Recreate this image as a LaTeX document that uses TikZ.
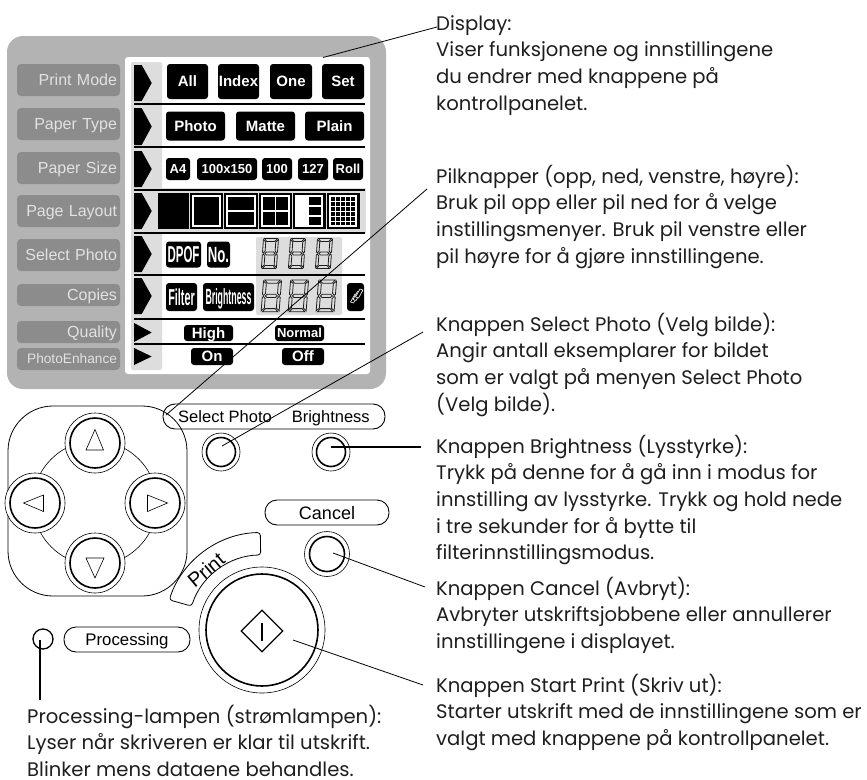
\documentclass[tikz,border=0pt]{standalone}
\usepackage{xcolor}
\usepackage{fontspec}
\setmainfont{Poppins}
\newfontfamily\panelfont{Liberation Sans}
\usetikzlibrary{
  shapes.geometric,
  positioning,
  calc
}
\definecolor{xpanel}{RGB}{179,179,179}
\definecolor{xtag}{RGB}{140,140,140}
\definecolor{xtagtext}{RGB}{226,226,226}
\definecolor{xlight}{RGB}{221,221,221}
\definecolor{xseg}{RGB}{30,30,30}
\definecolor{xink}{RGB}{30,30,30}
\newcommand{\pfsize}[1]{\fontsize{#1}{#1}\selectfont}
\begin{document}
\begin{tikzpicture}[
  x=1pt, y=-1pt,
  tag/.style={
    fill=xtag, rounded corners=4pt, minimum width=103pt, text width=97pt,
    inner sep=0pt, align=right, text=xtagtext, text depth=0pt
  },
  lcd/.style={
    fill=black, text=white, rounded corners=3pt, inner sep=0pt, text depth=0pt,
    font=\panelfont\bfseries\pfsize{15}
  },
  pill/.style={
    draw=black, line width=0.9pt, rounded corners=12pt, inner sep=0pt, text depth=0pt,
    minimum height=25pt, font=\panelfont\pfsize{16.5}
  },
  keyouter/.style={circle, draw=black, fill=white, line width=0.6pt, inner sep=0pt},
  keyinner/.style={circle, draw=black, line width=1.6pt, inner sep=0pt},
  rule/.style={line width=2pt, color=black},
  thumb/.style={fill=black, inner sep=0pt, minimum height=36pt, anchor=north west},
  thumbline/.style={draw=white, line width=1.2pt},
  arrow/.style={draw=black, line width=0.8pt},
  arrowthick/.style={draw=black, line width=1.4pt},
  note/.style={
    anchor=north west, inner sep=0pt, align=left, text=xink,
    font=\fontsize{19.6}{26.7}\selectfont
  },
  segdigit/.pic={
    \begin{scope}[xslant=0.07, draw=xseg, line width=0.8pt]
      \draw (1.5,0) -- (14.5,0) -- (12,3) -- (4,3) -- cycle;
      \draw (3,15) -- (4.5,13.5) -- (11.5,13.5) -- (13,15) -- (11.5,16.5) -- (4.5,16.5) -- cycle;
      \draw (1.5,30) -- (14.5,30) -- (12,27) -- (4,27) -- cycle;
      \draw (0.5,1) -- (3,3.5) -- (3,12.5) -- (1.5,14.5) -- (0.5,13.5) -- cycle;
      \draw (15.5,1) -- (13,3.5) -- (13,12.5) -- (14.5,14.5) -- (15.5,13.5) -- cycle;
      \draw (0.5,29) -- (3,26.5) -- (3,17.5) -- (1.5,15.5) -- (0.5,16.5) -- cycle;
      \draw (15.5,29) -- (13,26.5) -- (13,17.5) -- (14.5,15.5) -- (15.5,16.5) -- cycle;
    \end{scope}
  }
]
  \useasboundingbox (0,0) rectangle (867,779);

  \fill[xpanel, rounded corners=16pt] (7,36) rectangle (386,389);
  \fill[white, rounded corners=3pt] (125,57) rectangle (370,374);
  \fill[xlight, rounded corners=2pt] (131,62) rectangle (162,370);
  \fill[xlight] (131,188) rectangle (366,233);
  \fill[xlight, rounded corners=2pt] (256,237) rectangle (342,315);

  \node[tag, minimum height=32pt, font=\panelfont\pfsize{16}]   (TagMode)    at (68.5,80)    {Print Mode};
  \node[tag, minimum height=32pt, font=\panelfont\pfsize{16}]   (TagType)    at (68.5,124)   {Paper Type};
  \node[tag, minimum height=32pt, font=\panelfont\pfsize{16}]   (TagSize)    at (68.5,168)   {Paper Size};
  \node[tag, minimum height=32pt, font=\panelfont\pfsize{16}]   (TagLayout)  at (68.5,211)   {Page Layout};
  \node[tag, minimum height=32pt, font=\panelfont\pfsize{16}]   (TagSelect)  at (68.5,255)   {Select Photo};
  \node[tag, minimum height=22pt, font=\panelfont\pfsize{16}]   (TagCopies)  at (68.5,295)   {Copies};
  \node[tag, minimum height=22pt, font=\panelfont\pfsize{16}]   (TagQuality) at (68.5,332)   {Quality};
  \node[tag, minimum height=22pt, font=\panelfont\pfsize{13.7}] (TagEnhance) at (68.5,359)   {PhotoEnhance};

  \foreach \ya/\yb/\s in {65/101/141.7, 108/145/141.7, 151/187/141.7, 193/229/141.7,
                          236/272/141.7, 278/314/141.7, 323/342/134, 348/365/134}
    \fill[black] (134,\ya) -- (\s,\ya) -- (151.7,{(\ya+\yb)/2}) -- (\s,\yb) -- (134,\yb) -- cycle;

  \foreach \y in {104,147,190,233,275,319,344}
    \draw[rule] (134,\y) -- (365,\y);

  \node[lcd, minimum width=41pt, minimum height=35pt] (BtnAll)   at (187.5,81.5) {All};
  \node[lcd, minimum width=41pt, minimum height=35pt] (BtnIndex) at (238.5,81.5) {Index};
  \node[lcd, minimum width=42pt, minimum height=35pt] (BtnOne)   at (291,81.5)   {One};
  \node[lcd, minimum width=42pt, minimum height=35pt] (BtnSet)   at (343,81.5)   {Set};

  \node[lcd, minimum width=59pt, minimum height=29pt] (BtnPhoto) at (195.5,126)  {Photo};
  \node[lcd, minimum width=59pt, minimum height=29pt] (BtnMatte) at (265.5,126)  {Matte};
  \node[lcd, minimum width=59pt, minimum height=29pt] (BtnPlain) at (334.5,126)  {Plain};

  \node[lcd, minimum width=24pt, minimum height=22pt, font=\panelfont\bfseries\pfsize{13}] (BtnAfour)   at (178,169)   {A4};
  \node[lcd, minimum width=60pt, minimum height=22pt, font=\panelfont\bfseries\pfsize{13}] (BtnHundred) at (227,169)   {100x150};
  \node[lcd, minimum width=30pt, minimum height=22pt, font=\panelfont\bfseries\pfsize{13}] (BtnOneh)    at (277,169)   {100};
  \node[lcd, minimum width=30pt, minimum height=22pt, font=\panelfont\bfseries\pfsize{13}] (BtnOnet)    at (313,169)   {127};
  \node[lcd, minimum width=30pt, minimum height=22pt, font=\panelfont\bfseries\pfsize{13}] (BtnRoll)    at (348,169)   {Roll};

  \node[thumb, minimum width=31pt] (ThumbA) at (158,193) {};
  \node[thumb, minimum width=33pt] (ThumbB) at (190,193) {};
  \node[thumb, minimum width=34pt] (ThumbC) at (224,193) {};
  \node[thumb, minimum width=33pt] (ThumbD) at (259,193) {};
  \node[thumb, minimum width=33pt] (ThumbE) at (293,193) {};
  \node[thumb, minimum width=33pt] (ThumbF) at (327,193) {};
  \draw[thumbline] (193,196) rectangle (220,226);
  \draw[thumbline] (227,196) rectangle (255,226);
  \draw[thumbline] (227,211) -- (255,211);
  \draw[thumbline] (262,196) rectangle (289,226);
  \draw[thumbline] (262,211) -- (289,211);
  \draw[thumbline] (275.5,196) -- (275.5,226);
  \fill[white] (296,196) rectangle (309,226);
  \draw[thumbline] (296,196) rectangle (322,226);
  \draw[thumbline] (309,206) -- (322,206);
  \draw[thumbline] (309,216) -- (322,216);
  \draw[thumbline] (330,196) rectangle (356,226);
  \foreach \x in {335.2,340.4,345.6,350.8}
    \draw[white, line width=0.9pt] (\x,196) -- (\x,226);
  \foreach \y in {201,206,211,216,221}
    \draw[white, line width=0.9pt] (330,\y) -- (356,\y);

  \node[lcd, minimum width=35pt, minimum height=26pt, font=\panelfont\bfseries\pfsize{23}] (BtnDpof) at (183.5,254.5)
    {\scalebox{0.5}[1]{DPOF}};
  \node[lcd, minimum width=23pt, minimum height=26pt, font=\panelfont\bfseries\pfsize{22}] (BtnNo) at (218.5,254.5)
    {\scalebox{0.6}[1]{No.}};
  \node[lcd, minimum width=31pt, minimum height=28pt, font=\panelfont\bfseries\pfsize{23}] (BtnFilter) at (181.5,297)
    {\scalebox{0.47}[1]{Filter}};
  \node[lcd, minimum width=51pt, minimum height=28pt, font=\panelfont\bfseries\pfsize{22}] (BtnBright) at (228.5,297)
    {\scalebox{0.4}[1]{Brightness}};
  \node[lcd, minimum width=17pt, minimum height=28pt] (BtnPaper) at (355.5,297) {};
  \foreach \d in {0,2.5,5}
    \draw[white, fill=black, line width=0.6pt] (350.5+\d,302-\d) -- (355+\d,294-\d) -- (358+\d,295-\d) -- (353.5+\d,303-\d) -- cycle;

  \foreach \x in {263,290,317}
    \pic at (\x,238.5) {segdigit};
  \foreach \x in {263,290,318}
    \pic[xscale=1.2, yscale=1.06] at (\x,280) {segdigit};

  \node[lcd, minimum width=49pt, minimum height=16pt]                                   (BtnHigh)   at (208.5,333)   {High};
  \node[lcd, minimum width=49pt, minimum height=16pt, font=\panelfont\bfseries\pfsize{13}] (BtnNormal) at (299.5,333)   {Normal};
  \node[lcd, minimum width=42pt, minimum height=17pt]                                   (BtnOn)     at (212,356.5)   {On};
  \node[lcd, minimum width=42pt, minimum height=17pt]                                   (BtnOff)    at (303,356.5)   {Off};

  \draw[black, line width=0.8pt, rounded corners=45pt] (8,406) rectangle (187,596);
  \node[circle, draw=black, line width=0.6pt, minimum size=124pt, inner sep=0pt] (PadRing) at (95,503) {};

  \node[keyouter, minimum size=60pt] (UpOuter)    at (95,443)  {};
  \node[keyinner, minimum size=50pt] (UpKey)      at (95,443)  {};
  \node[keyouter, minimum size=60pt] (LeftOuter)  at (35,503)  {};
  \node[keyinner, minimum size=50pt] (LeftKey)    at (35,503)  {};
  \node[keyouter, minimum size=60pt] (RightOuter) at (155,503) {};
  \node[keyinner, minimum size=50pt] (RightKey)   at (155,503) {};
  \node[keyouter, minimum size=60pt] (DownOuter)  at (95,563)  {};
  \node[keyinner, minimum size=50pt] (DownKey)    at (95,563)  {};
  \draw[line width=0.6pt] (95,429.5) -- (86,450) -- (103.5,450) -- cycle;
  \draw[line width=0.6pt] (86,558) -- (104,558) -- (95,578) -- cycle;
  \draw[line width=0.6pt] (23.5,503) -- (43.5,495) -- (43.5,511.5) -- cycle;
  \draw[line width=0.6pt] (147.5,495) -- (147.5,511.5) -- (167.5,503) -- cycle;

  \node[pill, minimum width=222pt] (PillSelect) at (274,416.5)
    {Select Photo\hspace{20pt}Brightness\hspace{12pt}};
  \node[keyouter, minimum size=38pt] (SelectOuter) at (221,452) {};
  \node[keyinner, minimum size=29pt] (SelectKey)   at (221,452) {};
  \node[keyouter, minimum size=38pt] (BrightOuter) at (331,452) {};
  \node[keyinner, minimum size=29pt] (BrightKey)   at (331,452) {};

  \node[pill, minimum width=124pt, font=\panelfont\pfsize{18}] (PillCancel) at (327,512.5) {Cancel};
  \node[keyouter, minimum size=45pt] (CancelOuter) at (327,554) {};
  \node[keyinner, minimum size=35pt] (CancelKey)   at (327,554) {};

  \node[keyouter, minimum size=126pt] (StartOuter) at (262,630) {};
  \node[keyinner, minimum size=112pt] (StartKey)   at (262,630) {};
  \node[diamond, draw=black, line width=1.3pt, inner sep=0pt,
        minimum width=42pt, minimum height=42pt] (StartMark) at (262,631) {};
  \draw[line width=1.2pt] ($(StartMark.center)+(0,-8)$) -- ($(StartMark.center)+(0,10)$);

  \draw[black, line width=0.8pt, rounded corners=3pt]
    ($(StartKey.center)+(-162:97.5)$) arc[start angle=-162, end angle=-91, radius=97.5]
    -- ($(StartKey.center)+(-91:75)$) arc[start angle=-91, end angle=-162, radius=74] -- cycle;
  \node[rotate=40, inner sep=0pt, font=\panelfont\pfsize{20}] (LblPrint) at (206,570) {Print};

  \node[circle, draw=black, line width=1.3pt, minimum size=20pt, inner sep=0pt] (LampProc) at (43,639) {};
  \node[pill, minimum width=126pt, font=\panelfont\pfsize{16.8}] (PillProc) at (127,639.5) {Processing};

  \node[note] (NoteDisplay) at (436,11.3)
    {\strut Display:\\Viser funksjonene og innstillingene\\du endrer med knappene på\\kontrollpanelet.};
  \node[note] (NoteArrows) at (436,164.3)
    {\strut Pilknapper (opp, ned, venstre, høyre):\\Bruk pil opp eller pil ned for å velge\\instillingsmenyer. Bruk pil venstre eller\\pil høyre for å gjøre innstillingene.};
  \node[note] (NoteSelect) at (436,312.3)
    {\strut Knappen Select Photo (Velg bilde):\\Angir antall eksemplarer for bildet\\som er valgt på menyen Select Photo\\(Velg bilde).};
  \node[note] (NoteBright) at (436,434.3)
    {\strut Knappen Brightness (Lysstyrke):\\Trykk på denne for å gå inn i modus for\\innstilling av lysstyrke. Trykk og hold nede\\i tre sekunder for å bytte til\\filterinnstillingsmodus.};
  \node[note] (NoteCancel) at (436,576.3)
    {\strut Knappen Cancel (Avbryt):\\Avbryter utskriftsjobbene eller annullerer\\innstillingene i displayet.};
  \node[note] (NoteStart) at (436,673.3)
    {\strut Knappen Start Print (Skriv ut):\\Starter utskrift med de innstillingene som er\\valgt med knappene på kontrollpanelet.};
  \node[note] (NoteLamp) at (27,704.3)
    {\strut Processing-lampen (strømlampen):\\Lyser når skriveren er klar til utskrift.\\Blinker mens dataene behandles.};

  \coordinate (EndDisplay) at (437,27);
  \coordinate (EndArrows)  at (427,189);
  \coordinate (EndSelect)  at (423,332);
  \coordinate (EndBright)  at (421,447);
  \coordinate (EndCancel)  at (425,587);
  \coordinate (EndStart)   at (423,685);
  \coordinate (EndLamp)    at (40,700);
  \coordinate (InDisplay)  at (323,57.5);
  \coordinate (InPill)     at (166,415);

  \draw[arrow] (InDisplay) -- (EndDisplay);
  \draw[arrow] (InPill) -- (EndArrows);
  \draw[arrow] ($(SelectKey.center)+(1,-6)$) -- (EndSelect);
  \draw[arrowthick] ($(BrightKey.center)+(0,-5)$) -- (EndBright);
  \draw[arrow] ($(CancelKey.center)+(6,-1)$) -- (EndCancel);
  \draw[arrow] ($(StartKey.center)+(31,10)$) -- (EndStart);
  \draw[arrowthick] ($(LampProc.center)+(-3,1)$) -- (EndLamp);
\end{tikzpicture}
\end{document}
